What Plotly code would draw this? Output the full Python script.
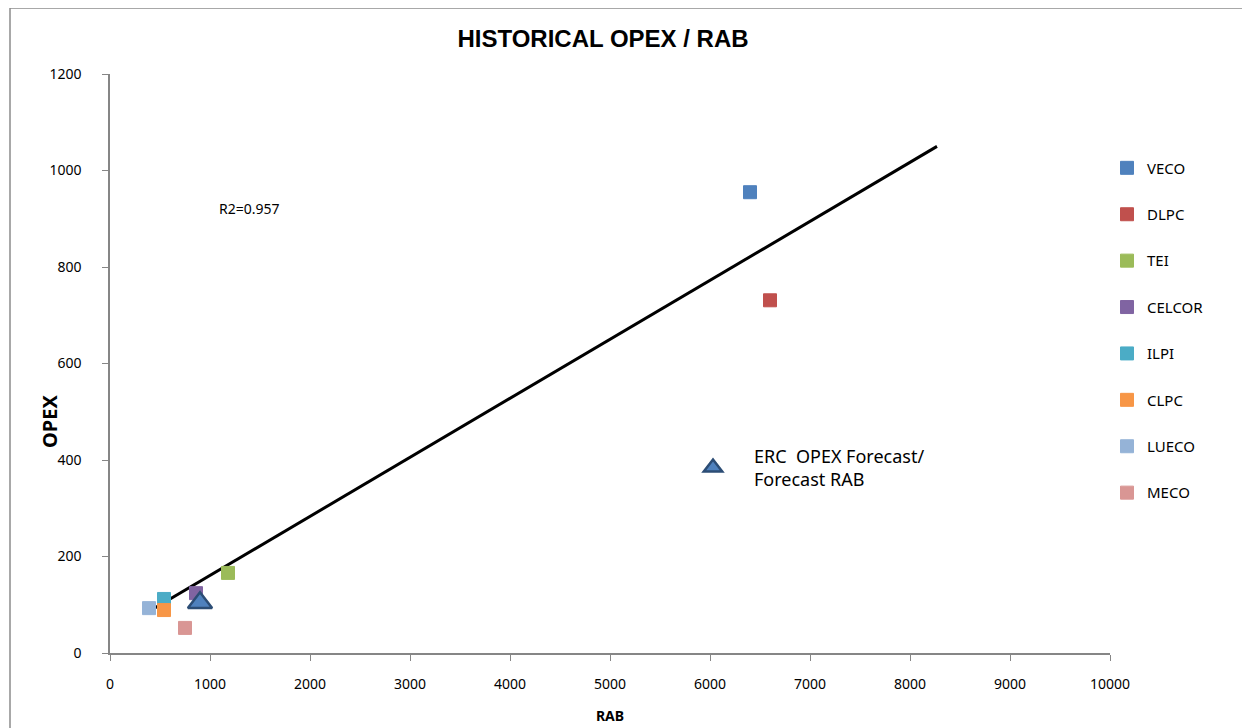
import plotly.graph_objects as go

companies = ["VECO", "DLPC", "TEI", "CELCOR", "ILPI", "CLPC", "LUECO", "MECO"]
rab = [6400, 6600, 1180, 860, 540, 540, 390, 750]
opex = [955, 731, 166, 124, 112, 89, 93, 52]
colors = ["#4F81BD", "#C0504D", "#9BBB59", "#8064A2", "#4BACC6", "#F79646", "#95B3D7", "#D99694"]

erc_rab = [900]
erc_opex = [104]

trend_x = [380, 8270]
trend_y = [85, 1050]

x_ticks = list(range(0, 10001, 1000))
x_labels = [str(v) for v in x_ticks]
y_ticks = list(range(0, 1201, 200))

FONT = "Noto Sans, DejaVu Sans, sans-serif"

fig = go.Figure()

fig.add_trace(go.Scatter(
    x=trend_x, y=trend_y, mode="lines",
    line=dict(color="black", width=3), showlegend=False, hoverinfo="skip"))

for i, (c, xv, yv, col) in enumerate(zip(companies, rab, opex, colors)):
    fig.add_trace(go.Scatter(
        x=[xv], y=[yv], mode="markers", name=c,
        legendgroup=c,
        marker=dict(symbol="square", size=13, color=col, line=dict(color=col, width=1))))

fig.add_trace(go.Scatter(
    x=erc_rab, y=erc_opex, mode="markers",
    name="ERC\u00a0\u00a0OPEX Forecast/<br>Forecast RAB",
    legend="legend2",
    marker=dict(symbol="triangle-up", size=21, color="#4F81BD",
                line=dict(color="#2C4D75", width=2.5))))

fig.add_annotation(x=1070, y=922, xref="x", yref="y", text="R2=0.957",
                   showarrow=False, xanchor="left", yanchor="middle",
                   font=dict(family=FONT, size=14, color="black"))

fig.add_annotation(x=-0.06, y=0.399, xref="paper", yref="paper", text="<b>OPEX</b>",
                   textangle=-90, showarrow=False, xanchor="center", yanchor="middle",
                   font=dict(family=FONT, size=20, color="black"))

fig.add_shape(type="rect", xref="paper", yref="paper",
              x0=-0.1, x1=1.3, y0=-0.3, y1=1.114,
              line=dict(color="#8C8C8C", width=1.5), layer="below")

fig.update_layout(
    width=1242, height=720,
    margin=dict(l=102, r=140, t=66, b=75),
    paper_bgcolor="white", plot_bgcolor="white",
    title=dict(text="<b>HISTORICAL OPEX / RAB</b>", x=0.493, xref="paper", xanchor="center",
               y=0.958, yanchor="middle",
               font=dict(family="Liberation Sans Narrow, Arial Narrow, sans-serif", size=24, color="black")),
    font=dict(family=FONT, size=14, color="black"),
    legend=dict(x=0.997, y=0.866, xanchor="left", yanchor="top",
                traceorder="grouped", tracegroupgap=23.9,
                font=dict(family=FONT, size=15), bgcolor="rgba(0,0,0,0)"),
    legend2=dict(x=0.562, y=0.372, xanchor="left", yanchor="top",
                 font=dict(family=FONT, size=18), bgcolor="rgba(0,0,0,0)",
                 itemwidth=72, itemsizing="trace"),
    xaxis=dict(range=[0, 10000], tickvals=x_ticks, ticktext=x_labels, showgrid=False, zeroline=False,
               showline=True, linecolor="#868686", linewidth=1.5, automargin=False,
               ticks="outside", tickcolor="#868686", ticklen=6,
               tickfont=dict(size=14), ticklabelstandoff=11,
               title=dict(text="<b>RAB</b>", font=dict(size=14), standoff=20)),
    yaxis=dict(range=[0, 1200], tickvals=y_ticks, showgrid=False, zeroline=False,
               showline=True, linecolor="#868686", linewidth=1.5, automargin=False,
               ticks="outside", tickcolor="#868686", ticklen=6,
               tickfont=dict(size=14), ticklabelstandoff=18),
)

fig.write_html("out.html")
